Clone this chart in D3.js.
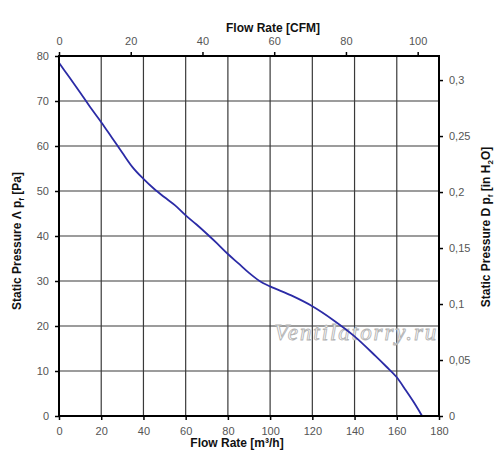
<!DOCTYPE html>
<html lang="en">
<head>
<meta charset="UTF-8">
<title>Fan curve</title>
<script src="https://d3js.org/d3.v7.min.js"></script>
<style>
    body { margin: 0; background: #fff; }
    .tick text { font-family: "Liberation Sans", Arial, sans-serif; font-size: 11px; fill: #555; }
    .title { font-family: "Liberation Sans", Arial, sans-serif; font-size: 12px; font-weight: bold; fill: #111; }
    .grid line { stroke: #3a3a3a; stroke-width: 1.2; }
</style>
</head>
<body>
<svg id="chart"></svg>
<script>
    // curve: flow [m3/h] vs static pressure [Pa]
    const flow = [0, 5, 10, 15, 20, 25, 30, 35, 40, 45, 50, 55, 60, 65, 70, 75, 80, 85, 90, 95, 100, 110, 120, 130, 140, 150, 155, 160, 164, 168, 172];
    const pressure = [78.5, 75.2, 71.9, 68.5, 65.3, 61.9, 58.5, 55.2, 52.7, 50.5, 48.6, 46.8, 44.6, 42.6, 40.5, 38.3, 36.0, 33.9, 31.8, 30.0, 28.8, 26.8, 24.4, 21.3, 17.7, 13.3, 11.0, 8.6, 5.9, 3.1, 0];

    const flowTicks = [0, 20, 40, 60, 80, 100, 120, 140, 160, 180];
    const pressureTicks = [0, 10, 20, 30, 40, 50, 60, 70, 80];
    const cfmTicks = [0, 20, 40, 60, 80, 100];
    const inH2OTicks = [0, 0.05, 0.1, 0.15, 0.2, 0.25, 0.3];

    const M3H_PER_CFM = 1.699;
    const PA_PER_INH2O = 248.84;

    const width = 500, height = 473;
    const margin = {top: 56, right: 61, bottom: 57, left: 59};
    const w = width - margin.left - margin.right;
    const h = height - margin.top - margin.bottom;

    const svg = d3.select("#chart").attr("width", width).attr("height", height);
    const g = svg.append("g").attr("transform", `translate(${margin.left},${margin.top})`);

    const x = d3.scaleLinear().domain([0, 180]).range([0, w]);
    const y = d3.scaleLinear().domain([0, 80]).range([h, 0]);
    const xCfm = d3.scaleLinear().domain([0, 180 / M3H_PER_CFM]).range([0, w]);
    const yIn = d3.scaleLinear().domain([0, 80 / PA_PER_INH2O]).range([h, 0]);

    const comma = d => String(d).replace(".", ",");

    // grid
    g.append("g").attr("class", "grid")
        .selectAll("line").data(flowTicks.slice(1, -1)).enter().append("line")
        .attr("x1", d => x(d)).attr("x2", d => x(d)).attr("y1", 0).attr("y2", h);
    g.append("g").attr("class", "grid")
        .selectAll("line").data(pressureTicks.slice(1, -1)).enter().append("line")
        .attr("y1", d => y(d)).attr("y2", d => y(d)).attr("x1", 0).attr("x2", w);

    // watermark
    g.append("text")
        .attr("x", x(102)).attr("y", y(16.8))
        .attr("textLength", 162)
        .style("font-family", "'Liberation Serif', serif")
        .style("font-style", "italic")
        .style("font-size", "23px")
        .style("fill", "#fff")
        .style("stroke", "#b4b4b4")
        .style("stroke-width", 0.9)
        .text("Ventilatorry.ru");

    // curve
    const pts = flow.map((f, i) => [f, pressure[i]]);
    g.append("path")
        .datum(pts)
        .attr("fill", "none")
        .attr("stroke", "#2b2ba6")
        .attr("stroke-width", 1.8)
        .attr("d", d3.line().x(d => x(d[0])).y(d => y(d[1])).curve(d3.curveMonotoneX));

    // axes
    const styleAxis = sel => {
        sel.select(".domain").remove();
        sel.selectAll(".tick line").attr("stroke", "#000").attr("stroke-width", 1.5);
    };
    g.append("g").attr("transform", `translate(0,${h})`)
        .call(d3.axisBottom(x).tickValues(flowTicks).tickSize(4).tickPadding(7)).call(styleAxis);
    g.append("g")
        .call(d3.axisLeft(y).tickValues(pressureTicks).tickSize(4).tickPadding(6)).call(styleAxis);
    g.append("g")
        .call(d3.axisTop(xCfm).tickValues(cfmTicks).tickSize(4).tickPadding(7)).call(styleAxis);
    g.append("g").attr("transform", `translate(${w},0)`)
        .call(d3.axisRight(yIn).tickValues(inH2OTicks).tickSize(4).tickPadding(6).tickFormat(comma)).call(styleAxis);

    // frame
    g.append("rect").attr("width", w).attr("height", h)
        .attr("fill", "none").attr("stroke", "#000").attr("stroke-width", 2);

    // titles
    svg.append("text").attr("class", "title")
        .attr("x", 237).attr("y", 447).attr("text-anchor", "middle")
        .text("Flow Rate [m³/h]");

    svg.append("text").attr("class", "title")
        .attr("x", 273).attr("y", 32).attr("text-anchor", "middle")
        .text("Flow Rate [CFM]");

    // rotated titles with subscripts
    const lt = svg.append("text").attr("class", "title")
        .attr("transform", "translate(21,241) rotate(-90)").attr("text-anchor", "middle");
    lt.append("tspan").text("Static Pressure Λ p");
    lt.append("tspan").attr("font-size", "8px").attr("dy", 3).text("f");
    lt.append("tspan").attr("dy", -3).text(" [Pa]");

    const rt = svg.append("text").attr("class", "title")
        .attr("transform", "translate(490,227) rotate(-90)").attr("text-anchor", "middle");
    rt.append("tspan").text("Static Pressure D p");
    rt.append("tspan").attr("font-size", "8px").attr("dy", 3).text("f");
    rt.append("tspan").attr("dy", -3).text(" [in H");
    rt.append("tspan").attr("font-size", "8px").attr("dy", 3).text("2");
    rt.append("tspan").attr("dy", -3).text("O]");
</script>
</body>
</html>
